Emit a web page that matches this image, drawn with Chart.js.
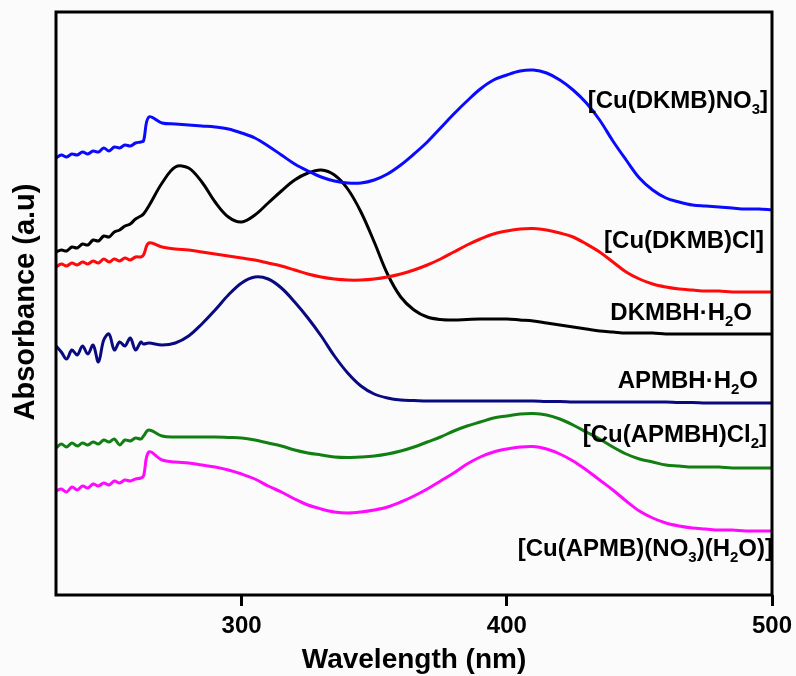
<!DOCTYPE html>
<html>
<head>
<meta charset="utf-8">
<script src="https://cdn.jsdelivr.net/npm/chart.js@4.4.1/dist/chart.umd.min.js"></script>
<style>
  body { margin: 0; background: #fbfbfb; }
  #wrap { width: 796px; height: 676px; }
</style>
</head>
<body>
<div id="wrap"><canvas id="uvChart" width="796" height="676"></canvas></div>
<script>
// wavelength grid (nm)
const wavelengths = [230, 232, 234, 236, 238, 240, 242, 244, 246, 248, 250, 252, 254, 256, 258, 260, 262, 263, 265,
  270, 275, 280, 285, 290, 295, 300, 305, 310, 315, 320, 325, 330, 335, 340, 345, 350, 355, 360, 365, 370,
  375, 380, 385, 390, 395, 400, 405, 410, 415, 420, 425, 430, 435, 440, 445, 450, 455, 460, 465, 470,
  475, 480, 485, 490, 495, 500];

const xTicks = [300, 400, 500];

// absorbance (a.u., offset traces)
const cuDkmbNo3 = [4.37, 4.40, 4.38, 4.41, 4.40, 4.43, 4.41, 4.44, 4.43, 4.47, 4.44, 4.48, 4.47, 4.50, 4.49, 4.52, 4.53, 4.54, 4.78,
  4.72, 4.71, 4.70, 4.69, 4.68, 4.66, 4.62, 4.57, 4.49, 4.40, 4.31, 4.24, 4.18, 4.14, 4.12, 4.12, 4.15, 4.21, 4.30, 4.41, 4.53,
  4.67, 4.81, 4.94, 5.06, 5.15, 5.20, 5.24, 5.25, 5.22, 5.15, 5.05, 4.92, 4.75, 4.54, 4.35, 4.17, 4.05, 3.97, 3.93, 3.90,
  3.89, 3.88, 3.87, 3.86, 3.86, 3.85];

const cuDkmbCl = [3.28, 3.31, 3.29, 3.32, 3.30, 3.33, 3.31, 3.34, 3.32, 3.36, 3.33, 3.36, 3.34, 3.37, 3.35, 3.38, 3.38, 3.40, 3.52,
  3.48, 3.46, 3.45, 3.43, 3.41, 3.39, 3.37, 3.35, 3.32, 3.29, 3.25, 3.21, 3.18, 3.16, 3.15, 3.15, 3.16, 3.18, 3.21, 3.25, 3.30,
  3.36, 3.43, 3.50, 3.56, 3.61, 3.64, 3.66, 3.665, 3.65, 3.62, 3.58, 3.51, 3.43, 3.33, 3.23, 3.16, 3.11, 3.08, 3.06, 3.05,
  3.04, 3.04, 3.03, 3.03, 3.03, 3.03];

const dkmbh = [3.43, 3.45, 3.44, 3.48, 3.47, 3.51, 3.50, 3.55, 3.54, 3.59, 3.58, 3.63, 3.65, 3.69, 3.71, 3.76, 3.79, 3.81, 3.89,
  4.12, 4.28, 4.27, 4.13, 3.93, 3.78, 3.73, 3.80, 3.92, 4.04, 4.15, 4.22, 4.25, 4.20, 4.06, 3.83, 3.53, 3.21, 2.98, 2.85, 2.78,
  2.755, 2.75, 2.755, 2.76, 2.76, 2.76, 2.75, 2.74, 2.72, 2.70, 2.68, 2.66, 2.64, 2.63, 2.62, 2.62, 2.62, 2.61, 2.61, 2.61,
  2.61, 2.61, 2.61, 2.61, 2.61, 2.61];

const apmbh = [2.49, 2.43, 2.36, 2.45, 2.40, 2.49, 2.41, 2.50, 2.33, 2.55, 2.61, 2.45, 2.53, 2.49, 2.57, 2.45, 2.53, 2.51, 2.52,
  2.50, 2.52, 2.59, 2.71, 2.85, 3.00, 3.12, 3.18, 3.16, 3.07, 2.93, 2.77, 2.59, 2.39, 2.22, 2.09, 2.01, 1.97, 1.95, 1.945, 1.94,
  1.94, 1.94, 1.94, 1.94, 1.94, 1.94, 1.94, 1.94, 1.935, 1.935, 1.93, 1.93, 1.93, 1.93, 1.93, 1.93, 1.93, 1.93, 1.925, 1.925,
  1.92, 1.92, 1.92, 1.92, 1.92, 1.92];

const cuApmbhCl2 = [1.47, 1.51, 1.48, 1.52, 1.49, 1.52, 1.50, 1.53, 1.51, 1.55, 1.53, 1.56, 1.50, 1.55, 1.54, 1.57, 1.56, 1.59, 1.65,
  1.59, 1.58, 1.58, 1.58, 1.58, 1.575, 1.57, 1.55, 1.52, 1.49, 1.45, 1.42, 1.40, 1.38, 1.375, 1.38, 1.39, 1.41, 1.44, 1.48, 1.53,
  1.58, 1.64, 1.69, 1.73, 1.77, 1.79, 1.81, 1.815, 1.80, 1.76, 1.70, 1.63, 1.56, 1.48, 1.41, 1.36, 1.33, 1.30, 1.29, 1.28,
  1.28, 1.28, 1.27, 1.27, 1.27, 1.27];

const cuApmbNo3H2o = [1.04, 1.06, 1.03, 1.08, 1.05, 1.09, 1.07, 1.11, 1.09, 1.12, 1.10, 1.14, 1.12, 1.15, 1.14, 1.16, 1.17, 1.19, 1.43,
  1.35, 1.33, 1.32, 1.30, 1.28, 1.25, 1.21, 1.16, 1.09, 1.03, 0.96, 0.90, 0.86, 0.83, 0.82, 0.83, 0.85, 0.88, 0.93, 0.99, 1.06,
  1.14, 1.22, 1.31, 1.38, 1.43, 1.46, 1.48, 1.485, 1.46, 1.41, 1.34, 1.25, 1.15, 1.05, 0.94, 0.84, 0.77, 0.72, 0.69, 0.67,
  0.66, 0.65, 0.65, 0.64, 0.64, 0.64];

const FONT = '"Liberation Sans", Arial, sans-serif';

function toPoints(values) {
    return wavelengths.map((x, i) => ({ x: x, y: values[i] }));
}

function makeSet(label, values, color) {
    return {
        label: label,
        data: toPoints(values),
        borderColor: color,
        borderWidth: 3,
        pointRadius: 0,
        fill: false,
        tension: 0.35
    };
}

// labels next to each trace: segments of [text, isSubscript]
const traceLabels = [
    { parts: [['[Cu(DKMB)NO', false], ['3', true], [']', false]], right: 768, base: 108 },
    { parts: [['[Cu(DKMB)Cl]', false]], right: 764, base: 248 },
    { parts: [['DKMBH\u00B7H', false], ['2', true], ['O', false]], right: 752, base: 320 },
    { parts: [['APMBH\u00B7H', false], ['2', true], ['O', false]], right: 758, base: 388 },
    { parts: [['[Cu(APMBH)Cl', false], ['2', true], [']', false]], right: 767, base: 442 },
    { parts: [['[Cu(APMB)(NO', false], ['3', true], [')(H', false], ['2', true], ['O)]', false]], right: 773, base: 556 }
];

const framePlugin = {
    id: 'frame',
    afterDraw(chart) {
        const ctx = chart.ctx;
        const a = chart.chartArea;
        ctx.save();
        ctx.strokeStyle = '#000';
        ctx.lineWidth = 3;
        ctx.strokeRect(a.left, a.top, a.right - a.left, a.bottom - a.top);

        // trace labels
        ctx.fillStyle = '#000';
        ctx.textBaseline = 'alphabetic';
        traceLabels.forEach(lbl => {
            let total = 0;
            lbl.parts.forEach(p => {
                ctx.font = 'bold ' + (p[1] ? 15 : 24) + 'px ' + FONT;
                total += ctx.measureText(p[0]).width;
            });
            let x = lbl.right - total;
            lbl.parts.forEach(p => {
                ctx.font = 'bold ' + (p[1] ? 15 : 24) + 'px ' + FONT;
                ctx.fillText(p[0], x, p[1] ? lbl.base + 6 : lbl.base);
                x += ctx.measureText(p[0]).width;
            });
        });

        // axis titles
        ctx.textAlign = 'center';
        ctx.textBaseline = 'middle';
        ctx.font = 'bold 28px ' + FONT;
        ctx.fillText('Wavelength (nm)', 414, 660);
        ctx.translate(26, 302);
        ctx.rotate(-Math.PI / 2);
        ctx.font = 'bold 29px ' + FONT;
        ctx.fillText('Absorbance (a.u)', 0, 0);
        ctx.restore();
    }
};

const ctx = document.getElementById('uvChart');
new Chart(ctx, {
    type: 'line',
    data: {
        datasets: [
            makeSet('[Cu(DKMB)NO3]', cuDkmbNo3, '#0a0aff'),
            makeSet('[Cu(DKMB)Cl]', cuDkmbCl, '#ff0a0a'),
            makeSet('DKMBH·H2O', dkmbh, '#000000'),
            makeSet('APMBH·H2O', apmbh, '#0a0a80'),
            makeSet('[Cu(APMBH)Cl2]', cuApmbhCl2, '#117f11'),
            makeSet('[Cu(APMB)(NO3)(H2O)]', cuApmbNo3H2o, '#ff0aff')
        ]
    },
    options: {
        responsive: false,
        animation: false,
        layout: { padding: { top: 12, right: 24, left: 0, bottom: 0 } },
        plugins: {
            legend: { display: false },
            tooltip: { enabled: false }
        },
        scales: {
            x: {
                type: 'linear',
                min: 230,
                max: 500,
                afterBuildTicks: scale => { scale.ticks = xTicks.map(v => ({ value: v })); },
                afterFit: scale => {
                    scale.height = 81;
                    scale.paddingRight = 0;
                },
                ticks: {
                    color: '#000',
                    padding: 6,
                    maxRotation: 0,
                    font: { family: FONT, size: 24, weight: 'bold' }
                },
                grid: {
                    display: true,
                    drawOnChartArea: false,
                    drawTicks: true,
                    tickLength: 11,
                    tickWidth: 3,
                    tickColor: '#000'
                },
                border: { display: false }
            },
            y: {
                min: 0,
                max: 5.83,
                afterFit: scale => { scale.width = 56; },
                ticks: { display: false },
                grid: { display: false },
                border: { display: false }
            }
        }
    },
    plugins: [framePlugin]
});
</script>
</body>
</html>
